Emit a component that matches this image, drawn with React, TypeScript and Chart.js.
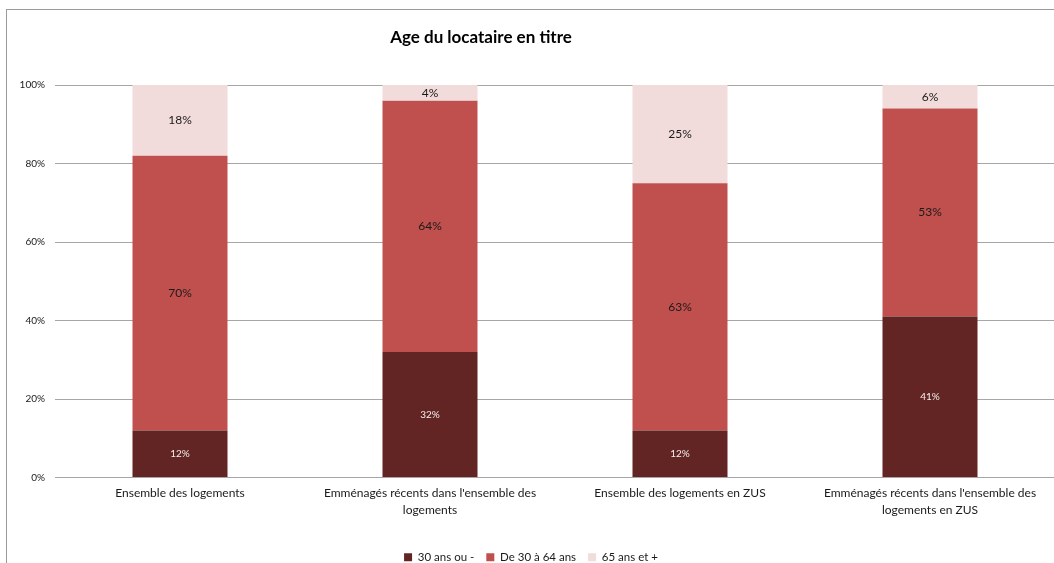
import React, { useEffect, useRef } from "react";
import { Chart, registerables } from "chart.js";

Chart.register(...registerables);

const categories: string[][] = [
  ["Ensemble des logements"],
  ["Emménagés récents dans l'ensemble des", "logements"],
  ["Ensemble des logements en ZUS"],
  ["Emménagés récents dans l'ensemble des", "logements en ZUS"],
];
const seriesNames = ["30 ans ou -", "De 30 à 64 ans", "65 ans et +"];
const young = [12, 32, 12, 41];
const middle = [70, 64, 63, 53];
const senior = [18, 4, 25, 6];
const yTickStep = 20;
const yMax = 100;
const chartTitle = "Age du locataire en titre";

const colors = ["#632523", "#C0504D", "#F2DCDB"];
const labelColors = ["#f0f0f0", "#1a1a1a", "#1a1a1a"];
const labelSizes = [10, 12, 12];
const FONT = "Lato, 'Open Sans', sans-serif";

const segmentLabels = {
  id: "segmentLabels",
  afterDatasetsDraw(chart: any) {
    const ctx = chart.ctx;
    ctx.save();
    ctx.textAlign = "center";
    ctx.textBaseline = "middle";
    chart.data.datasets.forEach((ds: any, di: number) => {
      const meta = chart.getDatasetMeta(di);
      meta.data.forEach((el: any, i: number) => {
        const p = el.getProps(["x", "y", "base"], true);
        ctx.fillStyle = labelColors[di];
        ctx.font = `${labelSizes[di]}px ${FONT}`;
        ctx.fillText(`${ds.data[i]}%`, p.x, (p.y + p.base) / 2);
      });
    });
    ctx.restore();
  },
};

const titlePlugin = {
  id: "customTitle",
  afterDraw(chart: any) {
    const ctx = chart.ctx;
    ctx.save();
    ctx.font = `bold 17px ${FONT}`;
    ctx.fillStyle = "#000";
    ctx.textAlign = "center";
    ctx.textBaseline = "middle";
    ctx.fillText(chartTitle, chart.chartArea.left + 426, 28);
    ctx.restore();
  },
};

export default function App() {
  const ref = useRef<HTMLCanvasElement | null>(null);

  useEffect(() => {
    if (!ref.current) return;
    const chart = new Chart(ref.current, {
      type: "bar",
      data: {
        labels: categories,
        datasets: [young, middle, senior].map((d, i) => ({
          label: seriesNames[i],
          data: d,
          backgroundColor: colors[i],
          borderWidth: 0,
          barPercentage: 0.38,
          categoryPercentage: 1,
        })),
      },
      options: {
        animation: false,
        responsive: false,
        devicePixelRatio: 1,
        layout: { padding: { top: 75, right: 12, left: 0, bottom: 0 } },
        plugins: {
          title: { display: false },
          tooltip: { enabled: false },
          legend: {
            position: "bottom",
            labels: {
              boxWidth: 8,
              boxHeight: 8,
              padding: 12,
              color: "#1a1a1a",
              font: { family: FONT, size: 11.5 },
            },
          },
        },
        scales: {
          x: {
            stacked: true,
            grid: { display: false, drawTicks: false },
            border: { display: true, color: "#a6a6a6", width: 1 },
            ticks: {
              color: "#1a1a1a",
              font: { family: FONT, size: 12, lineHeight: 1.35 },
              padding: 8,
              maxRotation: 0,
              autoSkip: false,
            },
            afterFit: (s: any) => {
              s.height = 62;
            },
          },
          y: {
            stacked: true,
            min: 0,
            max: yMax,
            grid: { color: "#a6a6a6", lineWidth: 1, drawTicks: false },
            border: { display: false },
            ticks: {
              stepSize: yTickStep,
              padding: 10,
              color: "#1a1a1a",
              font: { family: FONT, size: 10 },
              callback: (v: any) => `${v}%`,
            },
            afterFit: (s: any) => {
              s.width = 48;
            },
          },
        },
      },
      plugins: [segmentLabels, titlePlugin],
    });
    return () => chart.destroy();
  }, []);

  return (
    <div style={{ position: "fixed", inset: 0, overflow: "hidden", background: "#fff" }}>
      <div
        style={{
          position: "absolute",
          left: 6,
          top: 9,
          width: 1100,
          height: 620,
          borderLeft: "1px solid #9a9a9a",
          borderTop: "1px solid #9a9a9a",
          background: "#fff",
        }}
      >
        <canvas ref={ref} width={1060} height={563} style={{ display: "block" }} />
      </div>
    </div>
  );
}
